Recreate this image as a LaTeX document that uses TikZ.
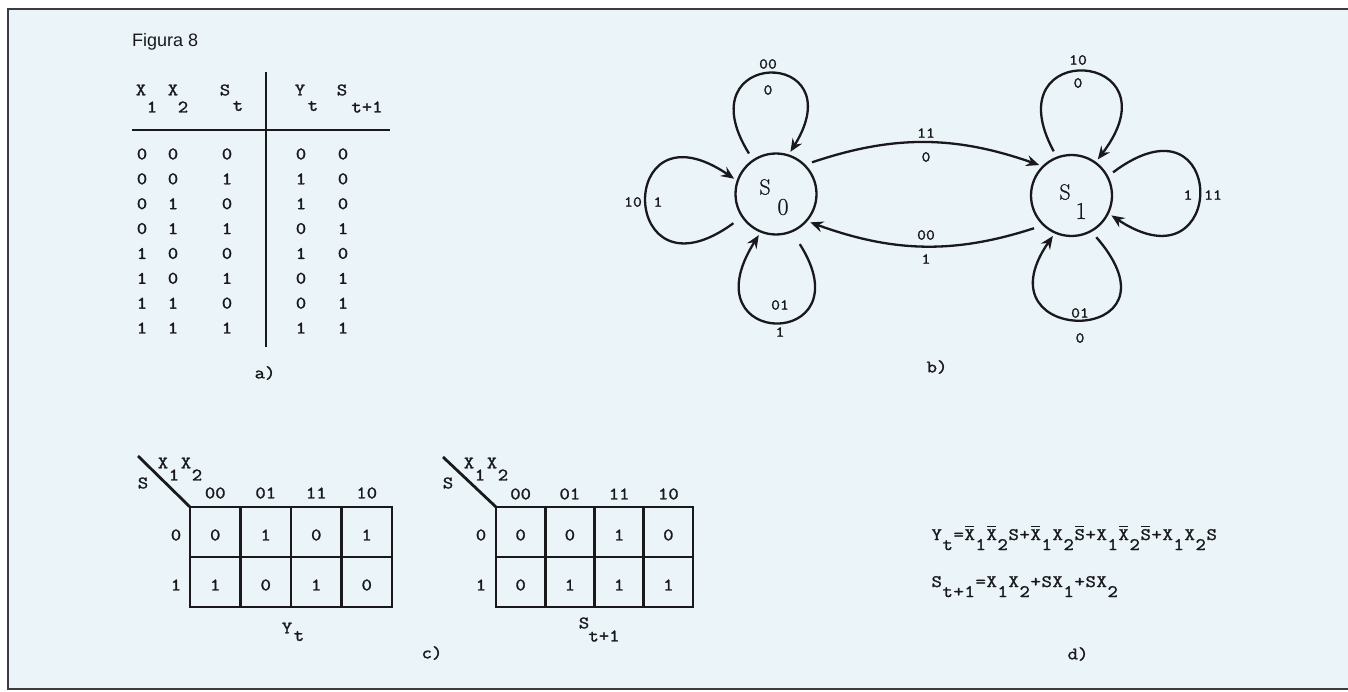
\documentclass[tikz,border=0pt]{standalone}
\usepackage{fontspec}
\setmainfont{Latin Modern Roman}
\newfontfamily\twf[FakeStretch=1.15,FakeBold=1.6]{Latin Modern Mono}
\newfontfamily\sansf{Liberation Sans}
\newfontfamily\srf[FakeBold=0.8]{Latin Modern Roman}
\usetikzlibrary{arrows.meta}
\definecolor{bgblue}{RGB}{235,244,249}
\definecolor{ink}{RGB}{25,25,28}
\definecolor{framegray}{RGB}{60,60,60}
\newlength\cw \setlength\cw{11pt}
\newcommand\ch[1]{\makebox[\cw]{#1}}
\newcommand\sub[1]{\raisebox{-10pt}{\ch{#1}}}
\newcommand\ovc[1]{\makebox[\cw]{\rlap{\hspace{0.6pt}\raisebox{13pt}{\rule{9.2pt}{1.1pt}}}#1}}
\begin{document}
\begin{tikzpicture}[x=1pt,y=-1pt,
 tw/.style={font=\twf\fontsize{17.5}{19}\selectfont, inner sep=0pt, text=ink},
 tws/.style={font=\twf\fontsize{15}{17}\selectfont, inner sep=0pt, text=ink},
 state/.style={circle, draw=ink, line width=2.3pt, minimum size=81pt, inner sep=0pt},
 slbl/.style={font=\srf\fontsize{22}{24}\selectfont, inner sep=0pt, text=ink},
 sdig/.style={font=\srf\fontsize{24}{26}\selectfont, inner sep=0pt, text=ink},
 edge/.style={draw=ink, line width=2.3pt, -{Stealth[length=13pt,width=11pt,inset=4.5pt]}, shorten >=3pt},
 tline/.style={draw=ink, line width=2.2pt},
 kline/.style={draw=ink, line width=2.8pt},
 frame/.style={draw=framegray, line width=2.4pt}
]
\useasboundingbox (0,0) rectangle (1348,692);
\fill[white] (0,0) rectangle (1348,692);
\fill[bgblue] (8,9) rectangle (1348,690);
\draw[frame] (1348,9) -- (8,9) -- (8,689) -- (1348,689);

% ---------- a) truth table
\node[font=\sansf\fontsize{18}{20}\selectfont, inner sep=0pt, anchor=west, text=ink] (fig) at (132,42) {Figura 8};
\node[tw] (hx1) at (141,90) {X}; \node[tw] (hx1s) at (152,107) {1};
\node[tw] (hx2) at (173,90) {X}; \node[tw] (hx2s) at (183,107) {2};
\node[tw] (hst) at (225,90) {S}; \node[tw] (hsts) at (238,106) {t};
\node[tw] (hyt) at (300,90) {Y}; \node[tw] (hyts) at (313,106) {t};
\node[tw] (hsn) at (342,90) {S}; \node[tw] (hsns) at (367,107) {t+1};
\draw[tline] (132,130) -- (390,130);
\draw[tline] (266,72) -- (266,347);
\foreach \a/\b/\c/\d/\e [count=\i] in {0/0/0/0/0,0/0/1/1/0,0/1/0/1/0,0/1/1/0/1,1/0/0/1/0,1/0/1/0/1,1/1/0/0/1,1/1/1/1/1}{
  \pgfmathsetmacro\yy{154+(\i-1)*24.86}
  \node[tw] (ra\i) at (142,\yy) {\a};
  \node[tw] (rb\i) at (173,\yy) {\b};
  \node[tw] (rc\i) at (227,\yy) {\c};
  \node[tw] (rd\i) at (301,\yy) {\d};
  \node[tw] (re\i) at (343,\yy) {\e};
}
\node[tw] (capa) at (265,373) {a)};

% ---------- b) state diagram
\node[state] (s0) at (776,194) {};
\node[state] (s1) at (1071.5,195.5) {};
\node[slbl] (s0S) at (765,187) {S}; \node[sdig] (s0d) at (783,207) {0};
\node[slbl] (s1S) at (1065,192) {S}; \node[sdig] (s1d) at (1081,211) {1};

\draw[edge, shorten <=7pt] (s0.124) .. controls +(-70,-112) and +(67,-108) .. (s0.72);
\draw[edge, shorten <=10pt] (s0.214) .. controls +(-123,90) and +(-122,-83) .. (s0.161);
\draw[edge, shorten <=14pt] (s0.293) .. controls +(75,118) and +(-75,118) .. (s0.248);
\draw[edge, shorten <=6pt] (s1.111) .. controls +(-65,-120) and +(85,-112) .. (s1.54);
\draw[edge, shorten <=6pt] (s1.28) .. controls +(120,-90) and +(120,80) .. (s1.334);
\draw[edge, shorten <=7pt] (s1.299) .. controls +(100,115) and +(-80,115) .. (s1.246);
\draw[edge, shorten <=7pt] (s0.45) to[bend left=19] (s1.135);
\draw[edge, shorten <=9pt] (s1.226) to[bend left=19] (s0.319);

\node[tws] (l1a) at (768,64) {00}; \node[tws] (l1b) at (768,90) {0};
\node[tws] (l2a) at (633,202) {10}; \node[tws] (l2b) at (658,202) {1};
\node[tws] (l3a) at (780,305) {01}; \node[tws] (l3b) at (780,332) {1};
\node[tws] (l4a) at (926,133) {11}; \node[tws] (l4b) at (926,157) {0};
\node[tws] (l5a) at (926,235) {00}; \node[tws] (l5b) at (926,259) {1};
\node[tws] (l6a) at (1078,60) {10}; \node[tws] (l6b) at (1078,83) {0};
\node[tws] (l7a) at (1188,195) {1}; \node[tws] (l7b) at (1213,195) {11};
\node[tws] (l8a) at (1080,313) {01}; \node[tws] (l8b) at (1080,338) {0};
\node[tw] (capb) at (937,367) {b)};

% ---------- c) Karnaugh maps
% map Y_t
\draw[kline] (190,507) rectangle (392,607);
\draw[kline] (240.5,507) -- (240.5,607) (291,507) -- (291,607) (341.5,507) -- (341.5,607) (190,557) -- (392,557);
\draw[kline] (138,456) -- (190,507);
\node[tw] (ka1) at (143,483) {S};
\node[tw] (ka2) at (163,463) {X}; \node[tw] (ka3) at (174,475) {1};
\node[tw] (ka4) at (186,463) {X}; \node[tw] (ka5) at (197,475) {2};
\foreach \c [count=\j] in {00,01,11,10}{\node[tw] (kac\j) at ({190+(\j-0.5)*50.5},493) {\c};}
\node[tw] (kar0) at (176,535) {0}; \node[tw] (kar1) at (176,585) {1};
\foreach \v [count=\j] in {0,1,0,1}{\node[tw] (kav\j) at ({190+(\j-0.5)*50.5},535) {\v};}
\foreach \v [count=\j] in {1,0,1,0}{\node[tw] (kaw\j) at ({190+(\j-0.5)*50.5},585) {\v};}
\node[tw] (kay) at (287,628) {Y}; \node[tw] (kayt) at (299,636) {t};

% map S_{t+1}
\draw[kline] (496,507) rectangle (693,607);
\draw[kline] (545.25,507) -- (545.25,607) (594.5,507) -- (594.5,607) (643.75,507) -- (643.75,607) (496,557) -- (693,557);
\draw[kline] (443,457) -- (496,507);
\node[tw] (kb1) at (448,483) {S};
\node[tw] (kb2) at (469,463) {X}; \node[tw] (kb3) at (480,475) {1};
\node[tw] (kb4) at (492,463) {X}; \node[tw] (kb5) at (503,475) {2};
\foreach \c [count=\j] in {00,01,11,10}{\node[tw] (kbc\j) at ({496+(\j-0.5)*49.25},494) {\c};}
\node[tw] (kbr0) at (481,535) {0}; \node[tw] (kbr1) at (481,585) {1};
\foreach \v [count=\j] in {0,0,1,0}{\node[tw] (kbv\j) at ({496+(\j-0.5)*49.25},535) {\v};}
\foreach \v [count=\j] in {0,1,1,1}{\node[tw] (kbw\j) at ({496+(\j-0.5)*49.25},585) {\v};}
\node[tw] (kbs) at (584,623) {S}; \node[tw] (kbst) at (604,636) {t+1};
\node[tw] (capc) at (432,653) {c)};

% ---------- d) equations
\node[tw, anchor=base west] (eq1) at (931,540)
  {\ch{Y}\sub{t}\ch{=}\ovc{X}\sub{1}\ovc{X}\sub{2}\ch{S}\ch{+}\ovc{X}\sub{1}\ch{X}\sub{2}\ovc{S}\ch{+}\ch{X}\sub{1}\ovc{X}\sub{2}\ovc{S}\ch{+}\ch{X}\sub{1}\ch{X}\sub{2}\ch{S}};
\node[tw, anchor=base west] (eq2) at (931,587)
  {\ch{S}\sub{t}\sub{+}\sub{1}\ch{=}\ch{X}\sub{1}\ch{X}\sub{2}\ch{+}\ch{S}\ch{X}\sub{1}\ch{+}\ch{S}\ch{X}\sub{2}};
\node[tw] (capd) at (1078,654) {d)};
\end{tikzpicture}
\end{document}
